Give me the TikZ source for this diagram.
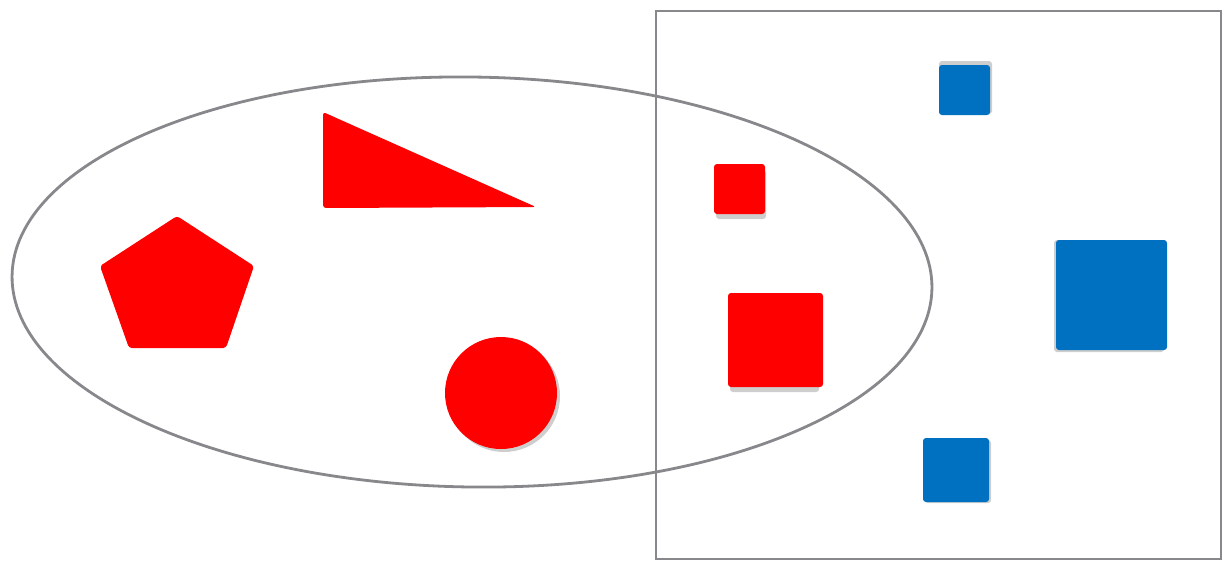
\documentclass[tikz,border=0pt]{standalone}
\usetikzlibrary{calc}
\definecolor{setred}{RGB}{255,0,0}
\definecolor{setblue}{RGB}{0,112,192}
\definecolor{rim}{RGB}{135,135,140}
\tikzset{
	rim/.style={draw=rim,line width=1.4pt},
	redpiece/.style={fill=setred,rounded corners=1.5pt},
	bluepiece/.style={fill=setblue,rounded corners=1.5pt},
	shade/.style={fill=black!35,opacity=0.55,rounded corners=1.5pt}
}
\begin{document}
\begin{tikzpicture}[x=0.5pt,y=-0.5pt]
		\useasboundingbox (0,0) rectangle (1230,570);
		\draw[rim] (656,11) rectangle (1221,559);
		\draw[rim,rotate around={-0.8:(472,282)}] (472,282) ellipse (460 and 205);
		\fill[redpiece] (323,112) -- (536,207) -- (323,208) -- cycle;
		\fill[redpiece] (177,216) -- (254,266) -- (226,348) -- (129,348) -- (100,266) -- cycle;
		\fill[shade] (504,396) circle (56);
		\fill[setred] (501,393) circle (56);
		\fill[shade] (716,170) rectangle (766,219);
		\fill[redpiece] (714,164) rectangle (765,214);
		\fill[shade] (730,298) rectangle (819,392);
		\fill[redpiece] (728,293) rectangle (823,387);
		\fill[shade] (939,61) rectangle (992,114);
		\fill[bluepiece] (939,65) rectangle (990,115);
		\fill[shade] (1054,240) rectangle (1164,352);
		\fill[bluepiece] (1056,240) rectangle (1167,350);
		\fill[shade] (925,440) rectangle (991,503);
		\fill[bluepiece] (923,438) rectangle (989,502);
	\end{tikzpicture}
\end{document}
